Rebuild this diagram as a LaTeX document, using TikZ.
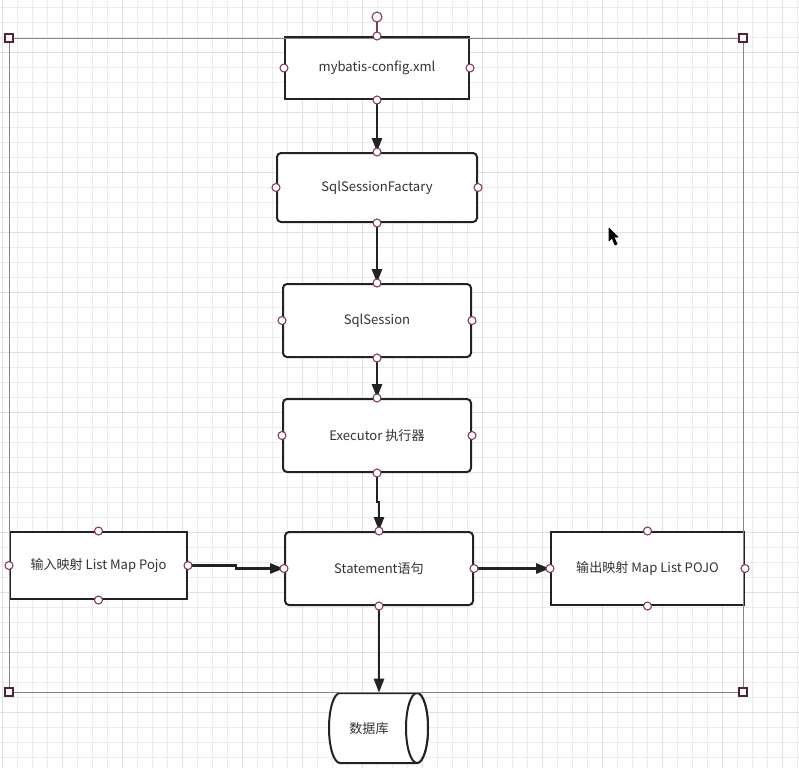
\documentclass[tikz,border=0pt]{standalone}
\usepackage{fontspec}
\setmainfont{Noto Sans CJK SC}
\usetikzlibrary{arrows.meta,calc}
\definecolor{gridminor}{RGB}{236,236,238}
\definecolor{gridmajor}{RGB}{224,224,228}
\definecolor{boxline}{RGB}{34,34,34}
\definecolor{txt}{RGB}{51,51,51}
\definecolor{handle}{RGB}{130,60,80}
\definecolor{selline}{RGB}{140,132,136}
\tikzset{
  box/.style={draw=boxline, line width=1.5pt, fill=white, inner sep=0pt, text=txt, font=\fontsize{9.8pt}{12pt}\selectfont},
  rbox/.style={box, rounded corners=3pt},
  flow/.style={draw=boxline, line width=2pt, -{Triangle[length=10.5pt,width=7.5pt]}},
  cpt/.style={draw=handle, fill=white, line width=0.8pt},
}
\begin{document}
\begin{tikzpicture}[x=0.75pt,y=-0.75pt]
\useasboundingbox (0,0) rectangle (799,768);
\fill[white] (0,0) rectangle (799,768);
\begin{scope}
\clip (0,0) rectangle (799,768);
\foreach \i in {0,...,53} \draw[gridminor, line width=0.6pt] ({2.7+15*\i},0) -- ({2.7+15*\i},768);
\foreach \i in {0,...,51} \draw[gridminor, line width=0.6pt] (0,{7.7+15*\i}) -- (799,{7.7+15*\i});
\foreach \i in {0,...,13} \draw[gridmajor, line width=0.6pt] ({2.7+60*\i},0) -- ({2.7+60*\i},768);
\foreach \i in {-1,...,12} \draw[gridmajor, line width=0.6pt] (0,{52.7+60*\i}) -- (799,{52.7+60*\i});
\end{scope}

% boxes
\node[box, minimum width=138pt, minimum height=46.5pt] (cfg) at (377,68) {mybatis-config.xml};
\node[rbox, minimum width=150pt, minimum height=51.75pt] (fac) at (377,187.5) {SqlSessionFactary};
\node[rbox, minimum width=141pt, minimum height=54.75pt] (ses) at (377,320.5) {SqlSession};
\node[rbox, minimum width=141pt, minimum height=54.75pt] (exe) at (377,435.5) {Executor 执行器};
\node[rbox, minimum width=141pt, minimum height=54.75pt] (st) at (379,568.5) {Statement语句};
\node[box, minimum width=132.75pt, minimum height=50.25pt] (inp) at (98.5,565.5) {输入映射 List Map Pojo};
\node[box, minimum width=144.75pt, minimum height=54.75pt] (outp) at (647.5,568.5) {输出映射 Map List POJO};

% database cylinder
\node[inner sep=0pt, minimum width=74.25pt, minimum height=52.5pt] (db) at (378.5,728) {};
\draw[boxline, line width=1.5pt, fill=white] (340,693) -- (417,693) arc[start angle=270, end angle=90, x radius=-11, y radius=35] -- (340,763) arc[start angle=90, end angle=270, x radius=11, y radius=35] -- cycle;
\draw[boxline, line width=1.5pt, fill=white] (417,728) ellipse[x radius=11, y radius=35];
\node[text=txt, font=\fontsize{9.8pt}{12pt}\selectfont] (dbt) at (369,729) {数据库};

% selection frame
\draw[selline, line width=0.75pt] (9,38) rectangle (743,692);
\draw[handle, line width=0.8pt] (377,22) -- (cfg.north);
\draw[handle, fill=white, line width=0.8pt] (377,17) circle[radius=5];
\foreach \p in {(9,38),(743,38),(9,692),(743,692)}
  \draw[handle!60!black, fill=white, line width=0.8pt] \p ++(-4,-4) rectangle ++(8,8);

% connectors
\draw[flow] (cfg.south) -- (fac.north);
\draw[flow] (fac.south) -- (ses.north);
\draw[flow] (ses.south) -- (exe.north);
\draw[flow] (exe.south) |- ($(exe.south)!0.5!(st.north)$) -| (st.north);
\draw[flow] (inp.east) -| ($(inp.east)!0.5!(st.west)$) |- (st.west);
\draw[flow] (st.east) -| ($(st.east)!0.5!(outp.west)$) |- (outp.west);
\draw[flow] (st.south) -- (st.south |- db.north);

% connection points
\foreach \n in {cfg,fac,ses,exe,st,inp,outp}
  \foreach \a in {north,south,east,west}
    \draw[cpt] (\n.\a) circle[radius=4];

% mouse cursor
\draw[black, fill=black, line width=0.5pt, line join=round] (609,228) -- (609,241) -- (612,238) -- (615,245) -- (617,244) -- (614,237) -- (618,237) -- cycle;
\end{tikzpicture}
\end{document}
